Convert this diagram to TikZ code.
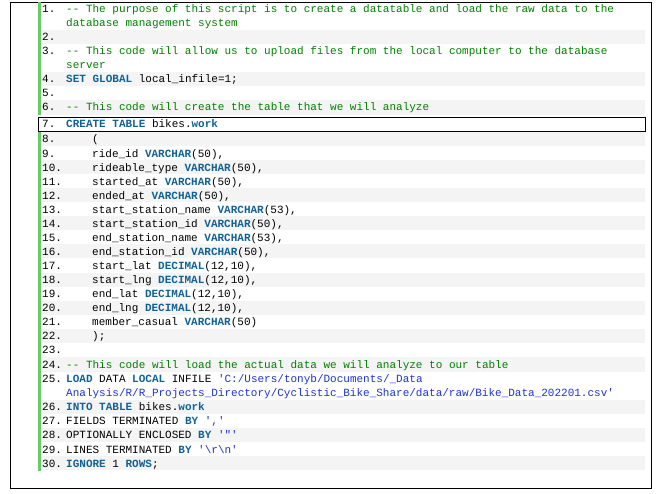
\documentclass[tikz,border=0pt]{standalone}
\usepackage{fontspec}
\newfontfamily\codefont{Liberation Mono}
\definecolor{kw}{RGB}{16,98,150}
\definecolor{cm}{RGB}{0,128,0}
\definecolor{st}{RGB}{30,50,210}
\definecolor{rowgray}{RGB}{244,244,244}
\definecolor{bar}{RGB}{102,204,102}
\newcommand{\K}[1]{\textcolor{kw}{\bfseries #1}}
\newcommand{\C}[1]{\textcolor{cm}{#1}}
\newcommand{\Sg}[1]{\textcolor{st}{#1}}
\begin{document}
\begin{tikzpicture}[x=1pt,y=-1pt,
  txt/.style={anchor=base west,inner sep=0pt,font=\codefont\fontsize{11}{14}\selectfont},
  frame/.style={draw=black,line width=0.8pt}]
\useasboundingbox (0,0) rectangle (657,494);
\draw[frame] (10,2) rectangle (651,488);
% shading of even rows
\foreach \a/\b in {30/44,72/86,100/115,132/146,160/174,188/202,216/230,244/258,273/287,301/315,329/343,357/372,400/414,428/442,456/470}
  \fill[rowgray] (40,\a) rectangle (645,\b);
% green bars
\fill[bar] (38,2) rectangle (41,115);
\fill[bar] (38,132) rectangle (41,471);
% line 7 box
\draw[line width=0.7pt] (38,117) rectangle (645,131);
% lines
\def\nx{42}\def\cx{66}\def\ix{92}
\node[txt] (n1) at (\nx,13) {1.};
\node[txt] (c1) at (\cx,13) {\C{-- The purpose of this script is to create a datatable and load the raw data to the}};
\node[txt] (c1b) at (\cx,27) {\C{database management system}};
\node[txt] (n2) at (\nx,41) {2.};
\node[txt] (n3) at (\nx,55) {3.};
\node[txt] (c3) at (\cx,55) {\C{-- This code will allow us to upload files from the local computer to the database}};
\node[txt] (c3b) at (\cx,69) {\C{server}};
\node[txt] (n4) at (\nx,83) {4.};
\node[txt] (c4) at (\cx,83) {\K{SET GLOBAL} local\_infile=1;};
\node[txt] (n5) at (\nx,97) {5.};
\node[txt] (n6) at (\nx,111) {6.};
\node[txt] (c6) at (\cx,111) {\C{-- This code will create the table that we will analyze}};
\node[txt] (n7) at (\nx,128) {7.};
\node[txt] (c7) at (\cx,128) {\K{CREATE TABLE} bikes.\K{work}};
\foreach \n/\t [count=\i from 0] in {
 8/{(},
 9/{ride\_id \K{VARCHAR}(50),},
 10/{rideable\_type \K{VARCHAR}(50),},
 11/{started\_at \K{VARCHAR}(50),},
 12/{ended\_at \K{VARCHAR}(50),},
 13/{start\_station\_name \K{VARCHAR}(53),},
 14/{start\_station\_id \K{VARCHAR}(50),},
 15/{end\_station\_name \K{VARCHAR}(53),},
 16/{end\_station\_id \K{VARCHAR}(50),},
 17/{start\_lat \K{DECIMAL}(12,10),},
 18/{start\_lng \K{DECIMAL}(12,10),},
 19/{end\_lat \K{DECIMAL}(12,10),},
 20/{end\_lng \K{DECIMAL}(12,10),},
 21/{member\_casual \K{VARCHAR}(50)},
 22/{);}} {
  \pgfmathsetmacro\yy{143+\i*14.07}
  \node[txt] (n\n) at (\nx,\yy) {\n.};
  \node[txt] (c\n) at (\ix,\yy) {\t};
}
\node[txt] (n23) at (\nx,354) {23.};
\node[txt] (n24) at (\nx,369) {24.};
\node[txt] (c24) at (\cx,369) {\C{-- This code will load the actual data we will analyze to our table}};
\node[txt] (n25) at (\nx,383) {25.};
\node[txt] (c25) at (\cx,383) {\K{LOAD} DATA \K{LOCAL} INFILE \Sg{'C:/Users/tonyb/Documents/\_Data}};
\node[txt] (c25b) at (\cx,397) {\Sg{Analysis/R/R\_Projects\_Directory/Cyclistic\_Bike\_Share/data/raw/Bike\_Data\_202201.csv'}};
\node[txt] (n26) at (\nx,411) {26.};
\node[txt] (c26) at (\cx,411) {\K{INTO TABLE} bikes.\K{work}};
\node[txt] (n27) at (\nx,425) {27.};
\node[txt] (c27) at (\cx,425) {FIELDS TERMINATED \K{BY} \Sg{','}};
\node[txt] (n28) at (\nx,439) {28.};
\node[txt] (c28) at (\cx,439) {OPTIONALLY ENCLOSED \K{BY} \Sg{'"'}};
\node[txt] (n29) at (\nx,454) {29.};
\node[txt] (c29) at (\cx,454) {LINES TERMINATED \K{BY} \Sg{'\textbackslash r\textbackslash n'}};
\node[txt] (n30) at (\nx,468) {30.};
\node[txt] (c30) at (\cx,468) {\K{IGNORE} 1 \K{ROWS};};
\end{tikzpicture}
\end{document}
